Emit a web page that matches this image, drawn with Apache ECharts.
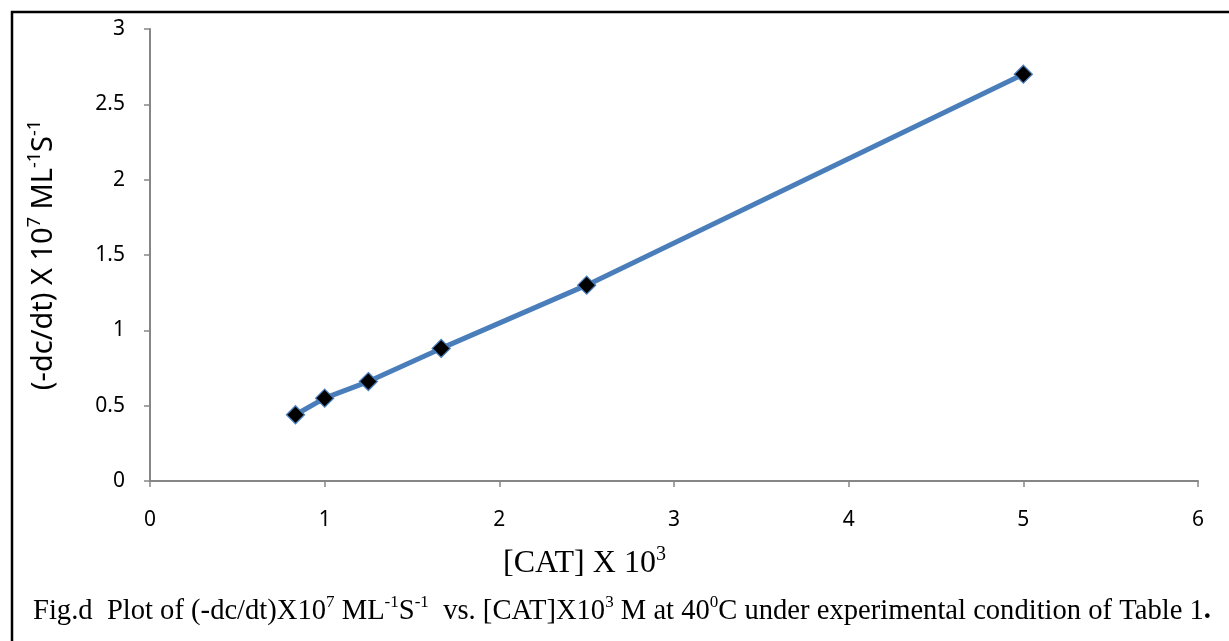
<!DOCTYPE html>
<html>
<head>
<meta charset="utf-8">
<style>
  html, body { margin: 0; padding: 0; background: #fff; }
  #chart { width: 1229px; height: 641px; }
</style>
<script src="https://cdn.jsdelivr.net/npm/echarts@6/dist/echarts.min.js"></script>
</head>
<body>
<div id="chart"></div>
<script>
// Catalyst concentration [CAT] x 10^3 (M)
const catConc = [0.833, 1.0, 1.25, 1.667, 2.5, 5.0];
// Rate (-dc/dt) x 10^7 (M L^-1 S^-1)
const rate = [0.44, 0.55, 0.66, 0.88, 1.30, 2.70];

const xTicks = { min: 0, max: 6, interval: 1 };
const yTicks = { min: 0, max: 3, interval: 0.5 };

const points = catConc.map((c, i) => [c, rate[i]]);

const chart = echarts.init(document.getElementById('chart'));

const axisGray = '#868686';
const labelFont = '"Noto Sans", "Open Sans", sans-serif';
const serif = '"Liberation Serif", "DejaVu Serif", serif';

chart.setOption({
  animation: false,
  grid: { left: 150, right: 31, top: 29, bottom: 160 },
  xAxis: {
    type: 'value',
    min: xTicks.min, max: xTicks.max, interval: xTicks.interval,
    axisLine: { show: true, lineStyle: { color: axisGray, width: 2 } },
    axisTick: { show: true, length: 6, lineStyle: { color: axisGray, width: 1.5 } },
    splitLine: { show: false },
    axisLabel: { color: '#000', fontFamily: labelFont, fontSize: 21, margin: 29 }
  },
  yAxis: {
    type: 'value',
    min: yTicks.min, max: yTicks.max, interval: yTicks.interval,
    axisLine: { show: true, onZero: false, lineStyle: { color: axisGray, width: 2 } },
    axisTick: { show: true, length: 6, lineStyle: { color: axisGray, width: 1.5 } },
    splitLine: { show: false },
    axisLabel: { color: '#000', fontFamily: labelFont, fontSize: 21, margin: 25 },
    name: '{n|(-dc/dt) X 10}{s|7}{n| ML}{s|-1}{n|S}{s|-1}',
    nameLocation: 'middle',
    nameRotate: 90,
    nameGap: 89,
    nameTextStyle: {
      rich: {
        n: { fontFamily: labelFont, fontSize: 29, color: '#000', lineHeight: 35 },
        s: { fontFamily: labelFont, fontSize: 18, color: '#000', lineHeight: 19, verticalAlign: 'top' }
      }
    }
  },
  series: [{
    type: 'line',
    data: points,
    symbol: 'diamond',
    symbolSize: 18,
    lineStyle: { color: '#4A7EBB', width: 5 },
    itemStyle: { color: '#000', borderColor: '#4A7EBB', borderWidth: 1.3 }
  }],
  graphic: [
    // frame around the figure
    {
      type: 'polyline',
      shape: { points: [[1240, 12], [12, 12], [12, 660]] },
      style: { stroke: '#000', lineWidth: 2.5, fill: null },
      z: 10
    },
    // x-axis title
    {
      type: 'text',
      left: 503, top: 545,
      style: {
        text: '{n|[CAT] X 10}{s|3}',
        rich: {
          n: { fontFamily: serif, fontSize: 32, fill: '#000', lineHeight: 37 },
          s: { fontFamily: serif, fontSize: 20, fill: '#000', lineHeight: 18, verticalAlign: 'top' }
        }
      }
    },
    // figure caption
    {
      type: 'text',
      left: 33, top: 594,
      style: {
        text: '{n|Fig.d  Plot of (-dc/dt)X10}{s|7}{n| ML}{s|-1}{n|S}{s|-1}{n|  vs. [CAT]X10}{s|3}{n| M at 40}{s|0}{n|C under experimental condition of Table 1}{b|.}',
        rich: {
          n: { fontFamily: serif, fontSize: 28.6, fill: '#000', lineHeight: 34 },
          b: { fontFamily: serif, fontSize: 28.6, fontWeight: 'bold', fill: '#000', lineHeight: 34 },
          s: { fontFamily: serif, fontSize: 17, fill: '#000', lineHeight: 18, verticalAlign: 'top' }
        }
      }
    }
  ]
});
</script>
</body>
</html>
